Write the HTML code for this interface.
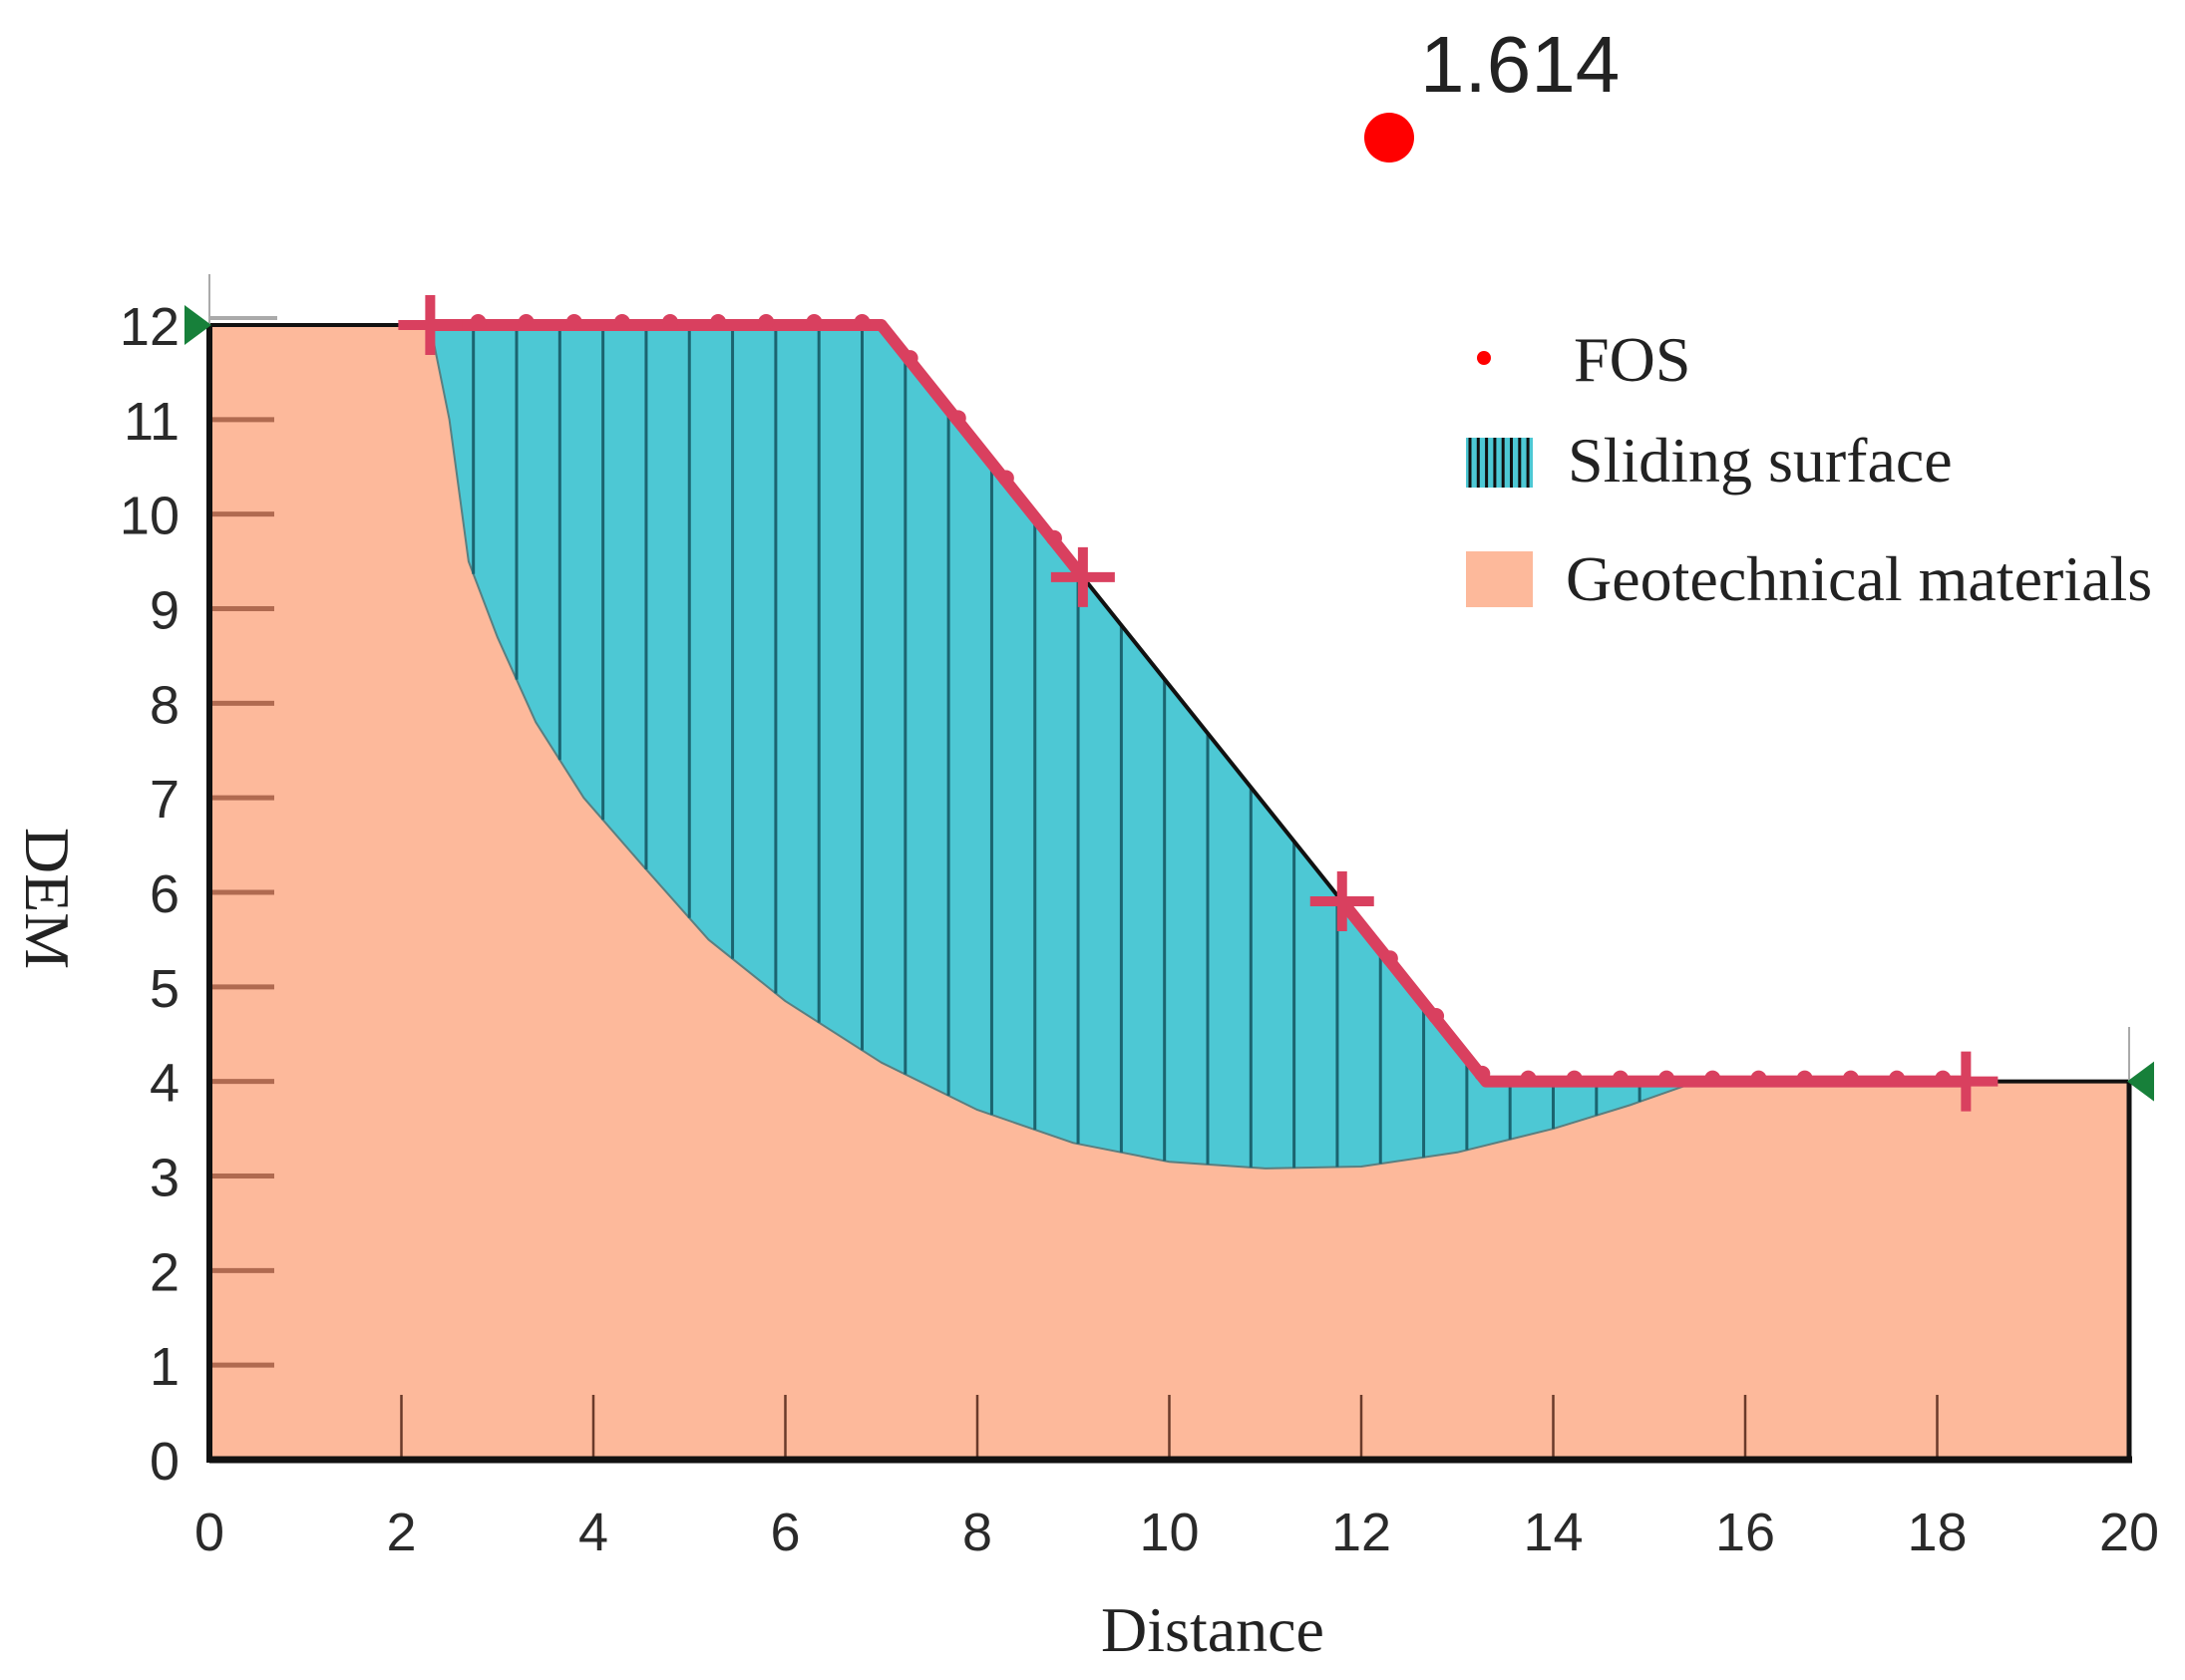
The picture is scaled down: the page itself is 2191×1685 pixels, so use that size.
<!DOCTYPE html>
<html><head><meta charset="utf-8"><style>
html,body{margin:0;padding:0;background:#fff;}
svg{display:block;}
.tick{font-family:"Liberation Sans",Arial,sans-serif;font-size:54px;fill:#2a2a2a;}
.ser{font-family:"Liberation Serif","Times New Roman",serif;fill:#222;}
</style></head><body>
<svg id="chart" width="2191" height="1685" viewBox="0 0 2191 1685" xmlns="http://www.w3.org/2000/svg">
<g id="plot"></g>
<g id="axes"></g>
<g id="legend">
  <circle cx="1488" cy="359" r="7" fill="#f00"/>
  <text class="ser" x="1578" y="382" font-size="64">FOS</text>
  <rect x="1470" y="439" width="67" height="50" fill="#4dc8d4"/>
  <g id="legstripes"></g>
  <text class="ser" x="1572" y="483" font-size="64">Sliding surface</text>
  <rect x="1470" y="553" width="67" height="56" fill="#fdb99b"/>
  <text class="ser" x="1570" y="602" font-size="64">Geotechnical materials</text>
</g>
<circle cx="1393" cy="138" r="25" fill="#f00"/>
<text x="1424" y="92" font-family="Liberation Sans, Arial, sans-serif" font-size="80" fill="#222">1.614</text>
<text class="ser" x="1216" y="1656" font-size="64" text-anchor="middle">Distance</text>
<text class="ser" transform="translate(26,901) rotate(90)" font-size="64" text-anchor="middle">DEM</text>
</svg>
<script>
const xTicks=[0,2,4,6,8,10,12,14,16,18,20];
const yTicks=[0,1,2,3,4,5,6,7,8,9,10,11,12];
const groundX=[0,7,13.3,20];
const groundY=[12,12,4,4];
const slipX=[2.3,2.5,2.7,3.0,3.4,3.9,4.5,5.2,6,7,8,9,10,11,12,13,14,14.8,15.5];
const slipY=[12,11,9.5,8.7,7.8,7,6.3,5.5,4.85,4.2,3.7,3.35,3.15,3.08,3.1,3.25,3.5,3.75,4];
const crossX=[2.3,9.1,11.8,18.3];
const fosValue=[1.614];

const X0=210,X1=2135,Y0=1464,Y1=326;
const sx=v=>X0+(v-0)/(20-0)*(X1-X0);
const sy=v=>Y0-(v-0)/(12-0)*(Y0-Y1);
const NS="http://www.w3.org/2000/svg";
function mk(tag,attrs,parent){const e=document.createElementNS(NS,tag);for(const k in attrs)e.setAttribute(k,attrs[k]);parent.appendChild(e);return e;}
function groundAt(x){for(let i=0;i<groundX.length-1;i++){if(x>=groundX[i]&&x<=groundX[i+1]){const t=(x-groundX[i])/(groundX[i+1]-groundX[i]);return groundY[i]+t*(groundY[i+1]-groundY[i]);}}return groundY[groundY.length-1];}
function slipAt(x){for(let i=0;i<slipX.length-1;i++){if(x>=slipX[i]&&x<=slipX[i+1]){const t=(x-slipX[i])/(slipX[i+1]-slipX[i]);return slipY[i]+t*(slipY[i+1]-slipY[i]);}}return null;}
const plot=document.getElementById('plot'),axes=document.getElementById('axes');

let d='M'+sx(0)+','+sy(0);
groundX.forEach((x,i)=>d+=' L'+sx(x)+','+sy(groundY[i]));
d+=' L'+sx(20)+','+sy(0)+' Z';
let m=mk('path',{d:d,fill:'#fdb99b'},plot);



let sd='M'+sx(slipX[0])+','+sy(slipY[0]);
slipX.forEach((x,i)=>sd+=' L'+sx(x)+','+sy(slipY[i]));
const last=slipX[slipX.length-1];
for(let i=groundX.length-1;i>=0;i--){ if(groundX[i]<last&&groundX[i]>slipX[0]) sd+=' L'+sx(groundX[i])+','+sy(groundY[i]); }
sd+=' Z';
const s=mk('path',{d:sd,fill:'#4dc8d4',stroke:'#5a7f80','stroke-width':2,'stroke-linejoin':'round'},plot);


for(let x=slipX[0]+0.45;x<last;x+=0.45){
  const y1=slipAt(x);if(y1===null)continue;
  const l=mk('line',{x1:sx(x),x2:sx(x),y1:sy(groundAt(x)),y2:sy(y1),stroke:'#1b6470','stroke-width':3},plot);
  
  
}
const lg=document.getElementById('legstripes');
for(let i=0;i<8;i++){mk('line',{x1:1474+i*8.3,x2:1474+i*8.3,y1:439,y2:489,stroke:'#111','stroke-width':3},lg);}

yTicks.forEach(v=>{
  if(v>0&&v<12){const t=mk('line',{x1:X0,x2:X0+65,y1:sy(v),y2:sy(v),stroke:'#b06a50','stroke-width':5},axes);
  }
  const tx=mk('text',{x:180,y:sy(v)+20,'text-anchor':'end',class:'tick'},axes);tx.textContent=v;
  
});
xTicks.forEach(v=>{
  if(v>0&&v<20){const t=mk('line',{x1:sx(v),x2:sx(v),y1:Y0,y2:Y0-65,stroke:'#6a3a2a','stroke-width':2.5},axes);
  }
  const tx=mk('text',{x:sx(v),y:1555,'text-anchor':'middle',class:'tick'},axes);tx.textContent=v;
  
});
let gd='M'+sx(groundX[0])+','+sy(groundY[0]);groundX.forEach((x,i)=>gd+=' L'+sx(x)+','+sy(groundY[i]));
mk('path',{d:gd,fill:'none',stroke:'#111','stroke-width':4},axes);
mk('line',{x1:X0,x2:X0,y1:sy(12),y2:Y0+3,stroke:'#111','stroke-width':6},axes);
mk('line',{x1:X0,x2:X1+3,y1:Y0,y2:Y0,stroke:'#111','stroke-width':7},axes);
mk('line',{x1:X1,x2:X1,y1:sy(4),y2:Y0,stroke:'#111','stroke-width':5},axes);
mk('line',{x1:X0,x2:X0,y1:275,y2:sy(12),stroke:'#aaa','stroke-width':2},axes);
mk('line',{x1:X0,x2:X0+68,y1:sy(12)-7,y2:sy(12)-7,stroke:'#aaa','stroke-width':4},axes);
mk('line',{x1:X1,x2:X1,y1:1030,y2:sy(4),stroke:'#aaa','stroke-width':2},axes);
const ta=mk('path',{d:`M${X0-25},${sy(12)-20} L${X0+2},${sy(12)} L${X0-25},${sy(12)+20} Z`,fill:'#17803a'},axes);

const tb=mk('path',{d:`M${X1+25},${sy(4)-20} L${X1-2},${sy(4)} L${X1+25},${sy(4)+20} Z`,fill:'#17803a'},axes);


const red='#d9405f';
function redSeg(a,b){let p='M'+sx(a)+','+sy(groundAt(a));const pts=[a];groundX.forEach(x=>{if(x>a&&x<b)pts.push(x)});pts.push(b);pts.forEach(x=>p+=' L'+sx(x)+','+sy(groundAt(x)));
 const e=mk('path',{d:p,fill:'none',stroke:red,'stroke-width':12,'stroke-linejoin':'round'},axes);
 }
redSeg(crossX[0],crossX[1]);redSeg(crossX[2],crossX[3]);
for(let x=crossX[0]+0.5;x<crossX[1];x+=0.5){mk('circle',{cx:sx(x),cy:sy(groundAt(x))-3,r:8,fill:red},axes);}
for(let x=crossX[2]+0.5;x<crossX[3];x+=0.48){mk('circle',{cx:sx(x),cy:sy(groundAt(x))-3,r:8,fill:red},axes);}
crossX.forEach(x=>{const cx=sx(x),cy=sy(groundAt(x));
 const c=mk('path',{d:`M${cx-32},${cy} L${cx+32},${cy} M${cx},${cy-30} L${cx},${cy+30}`,stroke:red,'stroke-width':10},axes);
 });
</script>
</body></html>
